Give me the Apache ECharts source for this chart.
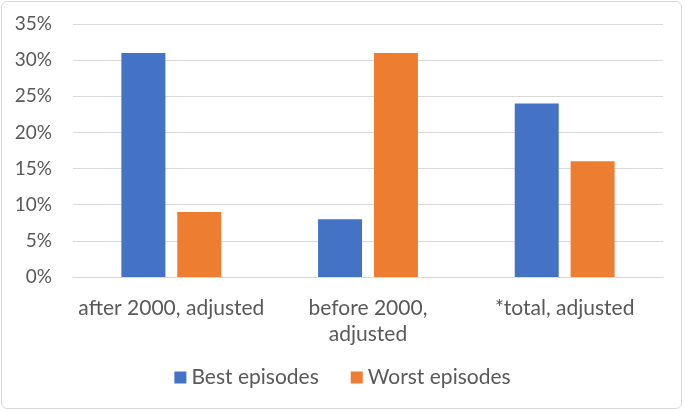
<!DOCTYPE html>
<html><head><meta charset="utf-8">
<script src="https://cdn.jsdelivr.net/npm/echarts@6/dist/echarts.min.js"></script>
<style>html,body{margin:0;padding:0;background:#fff}#wrap{position:absolute;left:1px;top:1px;width:681px;height:408px;border:1px solid #d9d9d9;border-radius:6px;box-sizing:border-box}#c{position:absolute;left:0;top:0;width:685px;height:412px}</style>
</head><body><div id="wrap"></div><div id="c"></div>
<script>
const categories = ['after 2000, adjusted', 'before 2000,\nadjusted', '*total, adjusted'];
const bestEpisodes = [31, 8, 24];
const worstEpisodes = [9, 31, 16];
const seriesNames = ['Best episodes', 'Worst episodes'];
const chart = echarts.init(document.getElementById('c'), null, {renderer: 'canvas'});
const font = 'Lato';
chart.setOption({
  animation: false,
  textStyle: {fontFamily: font},
  grid: {left: 73, right: 22, top: 24, bottom: 135},
  legend: {
    bottom: 19, left: 'center', itemWidth: 12, itemHeight: 12, itemGap: 32,
    icon: 'rect',
    textStyle: {fontSize: 21, color: '#595959', fontFamily: font},
    data: seriesNames
  },
  xAxis: {
    type: 'category', data: categories,
    axisLine: {lineStyle: {color: '#d9d9d9'}},
    axisTick: {show: false},
    axisLabel: {fontSize: 21, color: '#595959', margin: 18, lineHeight: 26, fontFamily: font, interval: 0, hideOverlap: false},
  },
  yAxis: {
    type: 'value', min: 0, max: 35, interval: 5,
    axisLabel: {formatter: '{value}%', fontSize: 19, color: '#595959', margin: 21, fontFamily: font},
    splitLine: {lineStyle: {color: '#d9d9d9'}},
    axisLine: {show: false}, axisTick: {show: false}
  },
  series: [
    {name: seriesNames[0], type: 'bar', data: bestEpisodes, barWidth: 44, barGap: '27%', itemStyle: {color: '#4472c4'}},
    {name: seriesNames[1], type: 'bar', data: worstEpisodes, barWidth: 44, itemStyle: {color: '#ed7d31'}}
  ]
});
</script></body></html>
